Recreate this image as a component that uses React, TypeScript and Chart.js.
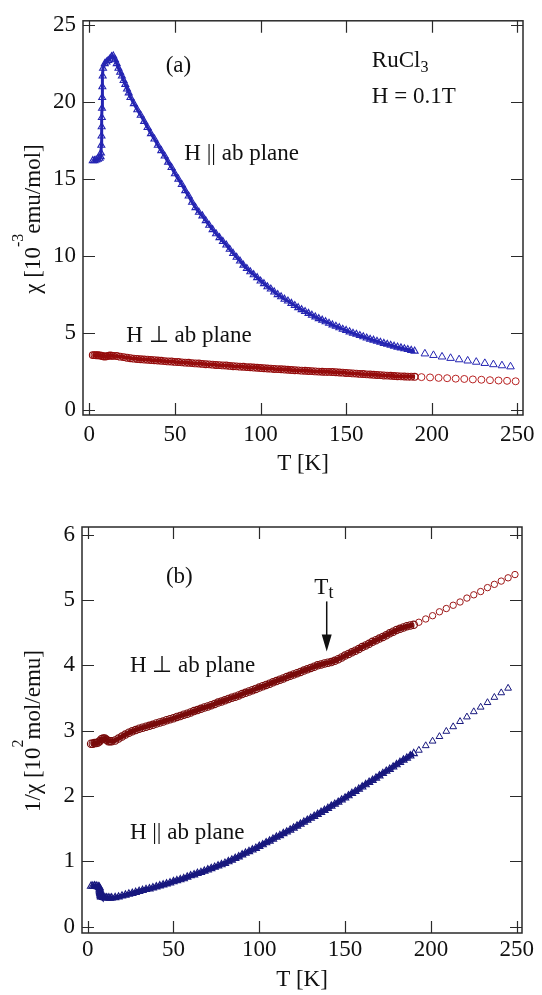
import React, { useEffect, useRef } from "react";
import { Chart, registerables } from "chart.js";

Chart.register(...registerables);

const FONT = '"Liberation Serif", "Times New Roman", serif';

// ---------- tick values ----------
const X_TICKS = [0, 50, 100, 150, 200, 250];
const Y_TICKS_TOP = [0, 5, 10, 15, 20, 25];
const Y_TICKS_BOT = [0, 1, 2, 3, 4, 5, 6];

// ---------- temperatures ----------
const T_LOW_PAR = [2, 3, 4, 5, 6, 6.6, 6.8, 7, 7.1, 7.2, 7.3, 7.4, 7.5, 7.6, 7.8, 8, 9, 10, 11, 12, 13];
const T_LOW_PERP = [2, 3, 4, 5, 6, 7, 8, 9, 10, 11, 12, 13];
const T_DENSE = [14, 16, 18, 20, 22, 24, 26, 28, 30, 32, 34, 36, 38, 40, 42, 44, 46, 48, 50, 52, 54, 56, 58, 60, 62, 64, 66, 68, 70, 72, 74, 76, 78, 80, 82, 84, 86, 88, 90, 92, 94, 96, 98, 100, 102, 104, 106, 108, 110, 112, 114, 116, 118, 120, 122, 124, 126, 128, 130, 132, 134, 136, 138, 140, 142, 144, 146, 148, 150, 152, 154, 156, 158, 160, 162, 164, 166, 168, 170, 172, 174, 176, 178, 180, 182, 184, 186, 188, 190];
const T_PAR_TOP_HI = [14, 15, 16, 17, 18, 19, 20, 21, 22, 23, 24, 26, 28, 30, 32, 34, 36, 38, 40, 42, 44, 46, 48, 50, 52, 54, 56, 58, 60, 62, 64, 66, 68, 70, 72, 74, 76, 78, 80, 82, 84, 86, 88, 90, 92, 94, 96, 98, 100, 102, 104, 106, 108, 110, 112, 114, 116, 118, 120, 122, 124, 126, 128, 130, 132, 134, 136, 138, 140, 142, 144, 146, 148, 150, 152, 154, 156, 158, 160, 162, 164, 166, 168, 170, 172, 174, 176, 178, 180, 182, 184, 186, 188, 190];
const T_SPARSE_PAR_TOP = [196, 201, 206, 211, 216, 221, 226, 231, 236, 241, 246];
const T_SPARSE_PERP_TOP = [194, 199, 204, 209, 214, 219, 224, 229, 234, 239, 244, 249];
const T_SPARSE_PAR_BOT = [193, 197, 201, 205, 209, 213, 217, 221, 225, 229, 233, 237, 241, 245];
const T_SPARSE_PERP_BOT = [193, 197, 201, 205, 209, 213, 217, 221, 225, 229, 233, 237, 241, 245, 249];

// ---------- (a) chi [1e-3 emu/mol] ----------
const CHI_LOW_PAR = [16.2, 16.2, 16.25, 16.3, 16.35, 16.45, 16.7, 17.2, 17.8, 18.4, 19.0, 19.6, 20.3, 21.0, 21.7, 22.2, 22.5, 22.6, 22.7, 22.8, 22.95];
const CHI_PAR_HI = [23.0, 22.75, 22.5, 22.2, 21.95, 21.7, 21.4, 21.15, 20.85, 20.6, 20.3,
  19.9, 19.5, 19.15, 18.75, 18.35, 17.95, 17.6, 17.2, 16.85, 16.5, 16.1, 15.75, 15.35, 15.0, 14.65, 14.25, 13.9, 13.5, 13.15, 12.85,
  12.61, 12.30, 12.00, 11.72, 11.45, 11.20, 10.95, 10.72, 10.44, 10.17, 9.92, 9.68, 9.41, 9.19, 8.98, 8.79, 8.60, 8.38, 8.21, 8.01,
  7.86, 7.67, 7.50, 7.36, 7.20, 7.08, 6.93, 6.79, 6.65, 6.52, 6.40, 6.28, 6.16, 6.05, 5.94, 5.84, 5.74, 5.64, 5.53, 5.44,
  5.35, 5.25, 5.17, 5.08, 4.99, 4.92, 4.84, 4.76, 4.68, 4.60, 4.54, 4.47, 4.40, 4.33, 4.27, 4.21, 4.15, 4.09, 4.04, 3.98,
  3.93, 3.88, 3.83];
const CHI_SPARSE_PAR = [3.66, 3.56, 3.46, 3.37, 3.28, 3.20, 3.12, 3.04, 2.96, 2.89, 2.82];
const CHI_LOW_PERP = [3.57, 3.57, 3.56, 3.56, 3.55, 3.53, 3.50, 3.48, 3.49, 3.52, 3.54, 3.53];
const CHI_PERP = [3.52, 3.51, 3.47, 3.44, 3.40, 3.37, 3.34, 3.32, 3.30, 3.28,
  3.27, 3.25, 3.24, 3.22, 3.20, 3.18, 3.16, 3.15, 3.13, 3.12,
  3.10, 3.08, 3.07, 3.05, 3.03, 3.02, 3.00, 2.98, 2.97, 2.95,
  2.93, 2.92, 2.90, 2.89, 2.87, 2.85, 2.84, 2.82, 2.81, 2.79,
  2.78, 2.76, 2.75, 2.73, 2.72, 2.70, 2.69, 2.67, 2.66, 2.65,
  2.63, 2.62, 2.60, 2.59, 2.58, 2.56, 2.55, 2.54, 2.53, 2.51,
  2.50, 2.49, 2.48, 2.48, 2.47, 2.46, 2.44, 2.43, 2.41, 2.40,
  2.38, 2.37, 2.35, 2.34, 2.32, 2.31, 2.29, 2.28, 2.27, 2.25,
  2.24, 2.23, 2.21, 2.20, 2.19, 2.18, 2.17, 2.17, 2.16];
const CHI_SPARSE_PERP = [2.14, 2.12, 2.09, 2.07, 2.04, 2.02, 1.99, 1.97, 1.94, 1.92, 1.90, 1.87];

// ---------- (b) 1/chi [1e2 mol/emu] ----------
const INV_LOW_PAR = [0.62, 0.62, 0.625, 0.62, 0.615, 0.61, 0.60, 0.58, 0.56, 0.54, 0.525, 0.51, 0.49, 0.475, 0.46, 0.455, 0.45, 0.445, 0.44, 0.44, 0.437];
const INV_PAR = [0.44, 0.445, 0.455, 0.47, 0.485, 0.50, 0.51, 0.525, 0.54, 0.555,
  0.57, 0.58, 0.595, 0.61, 0.625, 0.64, 0.655, 0.67, 0.69, 0.705,
  0.72, 0.735, 0.76, 0.78, 0.795, 0.815, 0.83, 0.85, 0.87, 0.89,
  0.91, 0.93, 0.95, 0.97, 0.995, 1.02, 1.045, 1.07, 1.10, 1.125,
  1.15, 1.175, 1.20, 1.23, 1.255, 1.285, 1.31, 1.34, 1.37, 1.395,
  1.425, 1.45, 1.48, 1.51, 1.54, 1.57, 1.60, 1.63, 1.66, 1.69,
  1.72, 1.75, 1.78, 1.81, 1.845, 1.875, 1.905, 1.94, 1.97, 2.005,
  2.04, 2.07, 2.105, 2.14, 2.175, 2.21, 2.24, 2.275, 2.31, 2.345,
  2.38, 2.41, 2.445, 2.48, 2.515, 2.55, 2.58, 2.615, 2.65];
const INV_SPARSE_PAR = [2.70, 2.77, 2.84, 2.91, 2.99, 3.06, 3.14, 3.21, 3.29, 3.36, 3.43, 3.51, 3.58, 3.65];
const INV_LOW_PERP = [2.80, 2.80, 2.81, 2.81, 2.82, 2.84, 2.87, 2.88, 2.88, 2.86, 2.84, 2.84];
const INV_PERP = [2.84, 2.85, 2.88, 2.91, 2.94, 2.97, 2.99, 3.01, 3.03, 3.045,
  3.06, 3.075, 3.09, 3.11, 3.125, 3.14, 3.16, 3.175, 3.19, 3.21,
  3.225, 3.245, 3.26, 3.28, 3.30, 3.315, 3.335, 3.355, 3.37, 3.39,
  3.41, 3.43, 3.445, 3.465, 3.485, 3.505, 3.52, 3.54, 3.56, 3.58,
  3.60, 3.62, 3.64, 3.66, 3.68, 3.70, 3.72, 3.74, 3.76, 3.78,
  3.80, 3.82, 3.84, 3.86, 3.88, 3.90, 3.92, 3.94, 3.96, 3.98,
  4.00, 4.015, 4.03, 4.04, 4.05, 4.07, 4.095, 4.12, 4.15, 4.175,
  4.20, 4.225, 4.25, 4.28, 4.305, 4.33, 4.36, 4.385, 4.41, 4.435,
  4.46, 4.49, 4.515, 4.54, 4.56, 4.58, 4.60, 4.61, 4.62];
const INV_SPARSE_PERP = [4.66, 4.71, 4.76, 4.82, 4.87, 4.92, 4.97, 5.03, 5.08, 5.13, 5.19, 5.24, 5.29, 5.34, 5.39];

const TT_ARROW_T = 139.3;

// ---------- styles ----------
const BLUE_TOP = "#2424b2";
const BLUE_BOT = "#18187e";
const RED_TOP = "#950c0c";
const RED_TOP_SPARSE = "#b82222";
const RED_BOT = "#780a0a";
const RED_BOT_SPARSE = "#9c1616";
const INK = "#111";
const FRAME = "#2a2a2a";
const TICK_LEN = 12;
const BASE = 23;

const zip = (xs: number[], ys: number[]) => xs.map((x, i) => ({ x, y: ys[i] }));

type Run = { t: string; size?: number; dy?: number };
type Label = { x: number; y: number; runs: Run[] };

function drawRuns(ctx: CanvasRenderingContext2D, runs: Run[], x: number, y: number, center: boolean) {
  let total = 0;
  const widths = runs.map((r) => {
    ctx.font = `${r.size ?? BASE}px ${FONT}`;
    const w = ctx.measureText(r.t).width;
    total += w;
    return w;
  });
  let cx = center ? x - total / 2 : x;
  runs.forEach((r, i) => {
    ctx.font = `${r.size ?? BASE}px ${FONT}`;
    ctx.fillText(r.t, cx, y + (r.dy ?? 0));
    cx += widths[i];
  });
}

function makeDecor(spec: {
  yTicks: number[];
  labels: Label[];
  xTitleY: number;
  yTitleX: number;
  yTitleY: number;
  yTitle: Run[];
  arrow?: { x: number; y0: number; y1: number };
}) {
  return {
    id: "decor",
    afterDraw(chart: any) {
      const { ctx, chartArea: a } = chart;
      const xs = chart.scales.x;
      const ys = chart.scales.y;
      ctx.save();
      ctx.strokeStyle = FRAME;
      ctx.lineWidth = 1.5;
      ctx.strokeRect(a.left, a.top, a.right - a.left, a.bottom - a.top);
      ctx.lineWidth = 1.2;
      ctx.beginPath();
      for (const v of X_TICKS) {
        const px = Math.round(xs.getPixelForValue(v)) + 0.5;
        ctx.moveTo(px, a.bottom);
        ctx.lineTo(px, a.bottom - TICK_LEN);
        ctx.moveTo(px, a.top);
        ctx.lineTo(px, a.top + TICK_LEN);
      }
      for (const v of spec.yTicks) {
        const py = Math.round(ys.getPixelForValue(v)) + 0.5;
        ctx.moveTo(a.left, py);
        ctx.lineTo(a.left + TICK_LEN, py);
        ctx.moveTo(a.right, py);
        ctx.lineTo(a.right - TICK_LEN, py);
      }
      ctx.stroke();

      ctx.fillStyle = INK;
      ctx.textBaseline = "alphabetic";
      ctx.textAlign = "left";
      for (const l of spec.labels) {
        drawRuns(ctx, l.runs, xs.getPixelForValue(l.x), ys.getPixelForValue(l.y), false);
      }
      drawRuns(ctx, [{ t: "T [K]" }], (a.left + a.right) / 2, spec.xTitleY, true);
      ctx.save();
      ctx.translate(spec.yTitleX, spec.yTitleY);
      ctx.rotate(-Math.PI / 2);
      drawRuns(ctx, spec.yTitle, 0, 0, true);
      ctx.restore();

      if (spec.arrow) {
        const ax = xs.getPixelForValue(spec.arrow.x);
        const y0 = ys.getPixelForValue(spec.arrow.y0);
        const y1 = ys.getPixelForValue(spec.arrow.y1);
        ctx.strokeStyle = INK;
        ctx.lineWidth = 1.5;
        ctx.beginPath();
        ctx.moveTo(ax, y0);
        ctx.lineTo(ax, y1 - 10);
        ctx.stroke();
        ctx.beginPath();
        ctx.moveTo(ax, y1);
        ctx.lineTo(ax - 5, y1 - 17);
        ctx.lineTo(ax + 5, y1 - 17);
        ctx.closePath();
        ctx.fill();
      }
      ctx.restore();
    },
  };
}

function scaleX(min: number, max: number, height: number, pad: number) {
  return {
    type: "linear" as const,
    min,
    max,
    grid: { display: false, drawTicks: false },
    border: { display: false },
    afterBuildTicks: (s: any) => {
      s.ticks = X_TICKS.map((v) => ({ value: v }));
    },
    afterFit: (s: any) => {
      s.height = height;
    },
    ticks: {
      autoSkip: false,
      maxRotation: 0,
      padding: pad,
      color: INK,
      font: { family: FONT, size: BASE },
    },
  };
}

function scaleY(min: number, max: number, ticks: number[], width: number) {
  return {
    type: "linear" as const,
    min,
    max,
    grid: { display: false, drawTicks: false },
    border: { display: false },
    afterBuildTicks: (s: any) => {
      s.ticks = ticks.map((v) => ({ value: v }));
    },
    afterFit: (s: any) => {
      s.width = width;
    },
    ticks: {
      autoSkip: false,
      padding: 7,
      color: INK,
      font: { family: FONT, size: BASE },
    },
  };
}

// dense runs: overlapping markers over a band of the same colour
function dense(data: { x: number; y: number }[], style: string, r: number, color: string, band: number) {
  return {
    data,
    pointStyle: style,
    pointRadius: r,
    pointBorderWidth: 1.1,
    borderColor: color,
    pointBorderColor: color,
    backgroundColor: "rgba(0,0,0,0)",
    pointBackgroundColor: "rgba(0,0,0,0)",
    showLine: true,
    borderWidth: band,
    tension: 0,
  };
}

function sparse(data: { x: number; y: number }[], style: string, r: number, color: string) {
  return {
    data,
    pointStyle: style,
    pointRadius: r,
    pointBorderWidth: 1,
    borderColor: color,
    pointBorderColor: color,
    backgroundColor: "rgba(0,0,0,0)",
    pointBackgroundColor: "rgba(0,0,0,0)",
    showLine: false,
  };
}

function topConfig(): any {
  return {
    type: "scatter",
    data: {
      datasets: [
        dense(zip([...T_LOW_PAR, ...T_PAR_TOP_HI], [...CHI_LOW_PAR, ...CHI_PAR_HI]), "triangle", 4, BLUE_TOP, 3),
        sparse(zip(T_SPARSE_PAR_TOP, CHI_SPARSE_PAR), "triangle", 4.4, BLUE_TOP),
        dense(zip([...T_LOW_PERP, ...T_DENSE], [...CHI_LOW_PERP, ...CHI_PERP]), "circle", 3.4, RED_TOP, 3.8),
        sparse(zip(T_SPARSE_PERP_TOP, CHI_SPARSE_PERP), "circle", 3.5, RED_TOP_SPARSE),
      ],
    },
    options: {
      responsive: false,
      animation: false,
      devicePixelRatio: 1,
      layout: { padding: { left: 0, right: 19, top: 11, bottom: 0 } },
      plugins: { legend: { display: false }, tooltip: { enabled: false } },
      scales: {
        x: scaleX(-3.7, 253.3, 80, 6),
        y: scaleY(-0.32, 25.28, Y_TICKS_TOP, 83),
      },
    },
    plugins: [
      makeDecor({
        yTicks: Y_TICKS_TOP,
        labels: [
          { x: 44.6, y: 21.95, runs: [{ t: "(a)" }] },
          { x: 165, y: 22.28, runs: [{ t: "RuCl" }, { t: "3", size: 16, dy: 5 }] },
          { x: 165, y: 19.96, runs: [{ t: "H = 0.1T" }] },
          { x: 55.5, y: 16.27, runs: [{ t: "H || ab plane" }] },
          { x: 21.6, y: 4.39, runs: [{ t: "H \u22A5 ab plane" }] },
        ],
        xTitleY: 470,
        yTitleX: 40,
        yTitleY: 219,
        yTitle: [{ t: "\u03C7 [10" }, { t: "-3", size: 16, dy: -17 }, { t: "emu/mol]" }],
      }),
    ],
  };
}

function bottomConfig(): any {
  return {
    type: "scatter",
    data: {
      datasets: [
        dense(zip([...T_LOW_PERP, ...T_DENSE], [...INV_LOW_PERP, ...INV_PERP]), "circle", 3.7, RED_BOT, 4.8),
        sparse(zip(T_SPARSE_PERP_BOT, INV_SPARSE_PERP), "circle", 3.2, RED_BOT_SPARSE),
        dense(zip([...T_LOW_PAR, ...T_DENSE], [...INV_LOW_PAR, ...INV_PAR]), "triangle", 4.2, BLUE_BOT, 4.8),
        sparse(zip(T_SPARSE_PAR_BOT, INV_SPARSE_PAR), "triangle", 3.9, BLUE_BOT),
      ],
    },
    options: {
      responsive: false,
      animation: false,
      devicePixelRatio: 1,
      layout: { padding: { left: 0, right: 20, top: 32, bottom: 0 } },
      plugins: { legend: { display: false }, tooltip: { enabled: false } },
      scales: {
        x: scaleX(-3.3, 253.1, 62, 3),
        y: scaleY(-0.097, 6.118, Y_TICKS_BOT, 82),
      },
    },
    plugins: [
      makeDecor({
        yTicks: Y_TICKS_BOT,
        labels: [
          { x: 45.6, y: 5.257, runs: [{ t: "(b)" }] },
          { x: 132.1, y: 5.097, runs: [{ t: "T" }, { t: "t", size: 18, dy: 4 }] },
          { x: 24.6, y: 3.891, runs: [{ t: "H \u22A5 ab plane" }] },
          { x: 24.6, y: 1.343, runs: [{ t: "H || ab plane" }] },
        ],
        xTitleY: 491,
        yTitleX: 40,
        yTitleY: 236,
        yTitle: [{ t: "1/\u03C7 [10" }, { t: "2", size: 16, dy: -17 }, { t: "mol/emu]" }],
        arrow: { x: TT_ARROW_T, y0: 4.979, y1: 4.213 },
      }),
    ],
  };
}

export default function App() {
  const topRef = useRef<HTMLCanvasElement>(null);
  const botRef = useRef<HTMLCanvasElement>(null);
  useEffect(() => {
    const c1 = new Chart(topRef.current as HTMLCanvasElement, topConfig());
    const c2 = new Chart(botRef.current as HTMLCanvasElement, bottomConfig());
    return () => {
      c1.destroy();
      c2.destroy();
    };
  }, []);
  return (
    <div style={{ position: "absolute", left: 0, top: 0, width: 542, height: 995, background: "#fff" }}>
      <canvas ref={topRef} width={542} height={495} style={{ position: "absolute", left: 0, top: 0 }} />
      <canvas ref={botRef} width={542} height={500} style={{ position: "absolute", left: 0, top: 495 }} />
    </div>
  );
}
